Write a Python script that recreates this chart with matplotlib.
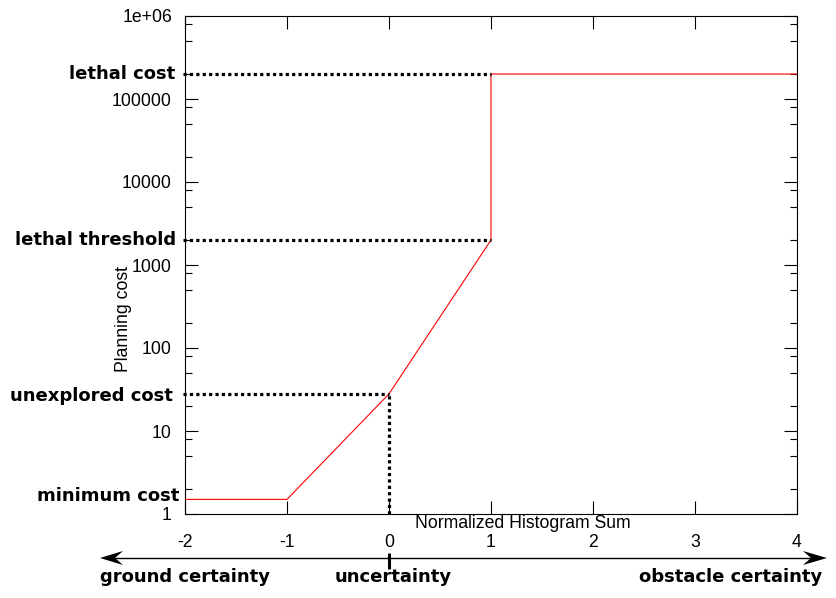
import matplotlib
matplotlib.use("Agg")
import matplotlib.pyplot as plt
from matplotlib.patches import Polygon
from matplotlib.ticker import LogLocator, FixedLocator, FixedFormatter, NullLocator

plt.rcParams["axes.unicode_minus"] = False

# planning cost as a function of the normalized histogram sum
hist_sum = [-2, -1, 0, 1, 1, 4]
planning_cost = [1.5, 1.5, 28, 2000, 200000, 200000]

# named cost levels (label, value, x where the dotted guide ends)
level_names = ["lethal cost", "lethal threshold", "unexplored cost", "minimum cost"]
level_values = [200000, 2000, 28, 1.5]
level_ends = [1, 1, 0, None]

x_ticks = [-2, -1, 0, 1, 2, 3, 4]
y_ticks = [1, 10, 100, 1000, 10000, 100000, 1000000]
y_tick_labels = ["1", "10", "100", "1000", "10000", "100000", "1e+06"]

bottom_labels = ["ground certainty", "uncertainty", "obstacle certainty"]

W, H = 837, 598


def px(x, y):
    """pixel position (from top left) -> figure fraction"""
    return x / W, 1 - y / H


fig = plt.figure(figsize=(W / 100, H / 100), dpi=100)
ax = fig.add_axes([185 / W, 1 - 514 / H, 612 / W, 498 / H])

tick_font = dict(family="Liberation Sans", size=12.7)
bold_font = dict(family="DejaVu Sans", size=13, weight="bold")

ax.plot(hist_sum, planning_cost, color="red", lw=0.8, zorder=3)
ax.set_yscale("log")
ax.set_xlim(-2, 4)
ax.set_ylim(1, 1e6)

ax.xaxis.set_major_locator(FixedLocator(x_ticks))
ax.xaxis.set_minor_locator(NullLocator())
ax.yaxis.set_major_locator(FixedLocator(y_ticks))
ax.yaxis.set_major_formatter(FixedFormatter(y_tick_labels))
ax.yaxis.set_minor_locator(LogLocator(base=10, subs=(2, 5, 8)))
ax.tick_params(which="both", direction="in", top=True, right=True, width=0.8)
ax.tick_params(which="major", length=9.4)
ax.tick_params(which="minor", length=5)
ax.tick_params(axis="y", pad=9.4)
ax.tick_params(axis="x", pad=14.5)
for lab in ax.get_xticklabels() + ax.get_yticklabels():
    lab.set_fontfamily(tick_font["family"])
    lab.set_fontsize(tick_font["size"])
for sp in ax.spines.values():
    sp.set_linewidth(0.8)

# dotted guide lines and their labels
dot = dict(color="black", lw=2.3, ls=(0, (1, 1)), dash_capstyle="butt", clip_on=False, zorder=4)
label_dx = [-10, -9, -12, -6]
label_dy = [0, 0, -2, 3]
for name, val, xe, dx, dy in zip(level_names, level_values, level_ends, label_dx, label_dy):
    if xe is not None:
        ax.plot([-2.02, xe], [val, val], **dot)
        if xe == 0:
            ax.plot([xe, xe], [1, val], **dot)
    ax.annotate(name, xy=(-2, val), xycoords="data", xytext=(dx * 0.72, dy * 0.72),
                textcoords="offset points", ha="right", va="center", **bold_font)

fig.text(*px(523, 524), "Normalized Histogram Sum", ha="center", va="center", **tick_font)
fig.text(*px(124, 319), "Planning cost", ha="center", va="center", rotation=90, **tick_font)

# certainty arrow under the axis (line plus two notched heads)
fig.add_artist(plt.Line2D(*zip(px(112, 558), px(815, 558)), color="black", lw=1.0,
                          transform=fig.transFigure))
left_head = [px(100, 558), px(123, 551), px(115, 558), px(123, 565)]
right_head = [px(827, 558), px(803, 551), px(811, 558), px(803, 565)]
for head in (left_head, right_head):
    fig.add_artist(Polygon(head, closed=True, color="black", lw=0,
                           transform=fig.transFigure))
trans = ax.get_xaxis_transform()
ax.plot([0, 0], [(514 - 553) / 498, (514 - 569) / 498], color="black", lw=2.2,
        transform=trans, clip_on=False, solid_capstyle="butt")

for name, xc in zip(bottom_labels, [185, 393, 731]):
    fig.text(*px(xc, 577), name, ha="center", va="center", **bold_font)

fig.savefig("out.png", dpi=100)
